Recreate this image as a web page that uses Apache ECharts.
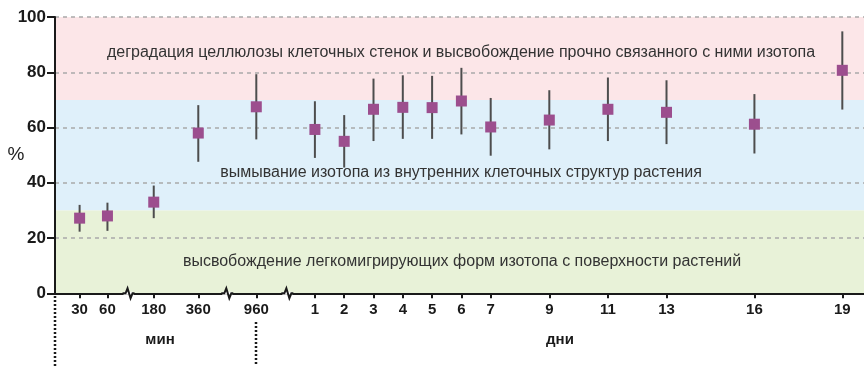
<!DOCTYPE html>
<html><head><meta charset="utf-8">
<script src="https://cdn.jsdelivr.net/npm/echarts@6/dist/echarts.min.js"></script>
<style>html,body{margin:0;padding:0;background:#fff}#c{width:864px;height:366px}</style>
</head><body><div id="c"></div>
<script>
// categories
const minuteLabels = ['30', '60', '180', '360', '960'];
const minuteSlots = [-7.03, -6.08, -4.5, -2.98, -1.0]; // axis slots for minute categories (broken axis)
const dayLabels = ['1', '2', '3', '4', '5', '6', '7', '9', '11', '13', '16', '19'];
// series values (%)
const meanValues = [27.2, 28.0, 33.0, 58.0, 67.5, 59.3, 55.0, 66.6, 67.3, 67.2, 69.6, 60.2, 62.7, 66.6, 65.5, 61.2, 80.7];
const lowValues  = [22.3, 22.6, 27.2, 47.6, 55.7, 49.0, 45.5, 55.1, 55.9, 55.9, 57.5, 49.8, 52.1, 55.1, 54.0, 50.6, 66.5];
const highValues = [32.0, 32.8, 39.0, 68.1, 79.3, 69.5, 64.5, 77.7, 78.9, 78.7, 81.6, 70.7, 73.5, 78.1, 77.1, 72.1, 94.8];
const breakSlots = [-5.36, -1.99, 0.06];
const yTicks = [0, 20, 40, 60, 80, 100];
const bandLow = [70, 30, 0];
const bandHigh = [100, 70, 30];
const bandTexts = [
  'деградация целлюлозы клеточных стенок и высвобождение прочно связанного с ними изотопа',
  'вымывание изотопа из внутренних клеточных структур растения',
  'высвобождение легкомигрирующих форм изотопа с поверхности растений'
];
const bandColors = ['#fce6e8', '#dff0fa', '#e8f2d8'];

const xLabels = minuteLabels.concat(dayLabels);
const xPos = minuteSlots.concat(dayLabels.map(Number));
function labelFor(v) {
  for (let i = 0; i < xPos.length; i++) if (Math.abs(xPos[i] - v) < 1e-6) return xLabels[i];
  return '';
}

const chart = echarts.init(document.getElementById('c'), null, {renderer: 'canvas'});
const font = '"Liberation Sans", Arial, sans-serif';
const dark = '#1a1a1a';

chart.setOption({
  animation: false,
  grid: {left: 55, right: 0, top: 17, bottom: 72.7},
  xAxis: {
    type: 'value', min: -7.87, max: 19.74, z: 1.6,
    axisLine: {show: true, onZero: false, lineStyle: {color: dark, width: 2}},
    axisTick: {show: true, customValues: xPos, length: 5, lineStyle: {color: dark, width: 2}},
    axisLabel: {show: true, customValues: xPos, formatter: labelFor, margin: 9,
      fontFamily: font, fontWeight: 'bold', fontSize: 15, color: dark},
    splitLine: {show: false}
  },
  yAxis: {
    type: 'value', min: 0, max: 100, interval: 20, z: 1.5,
    axisLine: {show: true, onZero: false, lineStyle: {color: dark, width: 2}},
    axisTick: {show: true, length: 8, lineStyle: {color: dark, width: 2}},
    axisLabel: {margin: 9, fontFamily: font, fontWeight: 'bold', fontSize: 17, color: dark},
    splitLine: {show: true, showMinLine: false, lineStyle: {color: '#a9a9a9', width: 1.5, type: [4, 4]}}
  },
  series: [
    {
      type: 'scatter', data: [], z: 1,
      markArea: {
        silent: true,
        data: bandLow.map((lo, i) => [
          {yAxis: lo, itemStyle: {color: bandColors[i]}},
          {yAxis: bandHigh[i]}
        ])
      }
    },
    {
      type: 'custom', z: 3,
      data: xPos.map((x, i) => [x, lowValues[i], highValues[i]]),
      renderItem: function (params, api) {
        const p1 = api.coord([api.value(0), api.value(1)]);
        const p2 = api.coord([api.value(0), api.value(2)]);
        return {type: 'line', shape: {x1: p1[0], y1: p1[1], x2: p2[0], y2: p2[1]},
          style: {stroke: '#4d4d4d', lineWidth: 2}};
      }
    },
    {
      type: 'scatter', z: 4, symbol: 'rect', symbolSize: 11,
      itemStyle: {color: '#9c4e8e', opacity: 1},
      data: xPos.map((x, i) => [x, meanValues[i]])
    },
    {
      type: 'custom', z: 5, clip: false,
      data: breakSlots.map(x => [x, 0]),
      renderItem: function (params, api) {
        const c = api.coord([api.value(0), 0]);
        const x = c[0], y = c[1];
        return {type: 'group', children: [
          {type: 'line', shape: {x1: x - 5, y1: y, x2: x + 5, y2: y}, style: {stroke: '#fff', lineWidth: 3}},
          {type: 'polyline', shape: {points: [[x - 6, y], [x - 3, y], [x - 1, y - 5], [x + 2, y + 5], [x + 4, y], [x + 6, y]]},
            style: {stroke: dark, lineWidth: 2, fill: null}}
        ]};
      }
    }
  ],
  graphic: [
    {type: 'text', x: 461, y: 53, style: {text: bandTexts[0], font: '16px ' + font, fill: '#333', align: 'center', verticalAlign: 'middle'}, z: 10},
    {type: 'text', x: 461, y: 173, style: {text: bandTexts[1], font: '16px ' + font, fill: '#333', align: 'center', verticalAlign: 'middle'}, z: 10},
    {type: 'text', x: 462, y: 262, style: {text: bandTexts[2], font: '16px ' + font, fill: '#333', align: 'center', verticalAlign: 'middle'}, z: 10},
    {type: 'text', x: 16, y: 155, style: {text: '%', font: '19px ' + font, fill: '#222', align: 'center', verticalAlign: 'middle'}, z: 10},
    {type: 'text', x: 160, y: 340, style: {text: 'мин', font: 'bold 15px ' + font, fill: dark, align: 'center', verticalAlign: 'middle'}, z: 10},
    {type: 'text', x: 560, y: 340, style: {text: 'дни', font: 'bold 15px ' + font, fill: dark, align: 'center', verticalAlign: 'middle'}, z: 10},
    {type: 'line', shape: {x1: 55, y1: 296, x2: 55, y2: 366}, style: {stroke: dark, lineWidth: 2.5, lineDash: [2, 2]}, z: 10},
    {type: 'line', shape: {x1: 256, y1: 322, x2: 256, y2: 366}, style: {stroke: dark, lineWidth: 2.5, lineDash: [2, 2]}, z: 10}
  ]
});
</script>
</body></html>
